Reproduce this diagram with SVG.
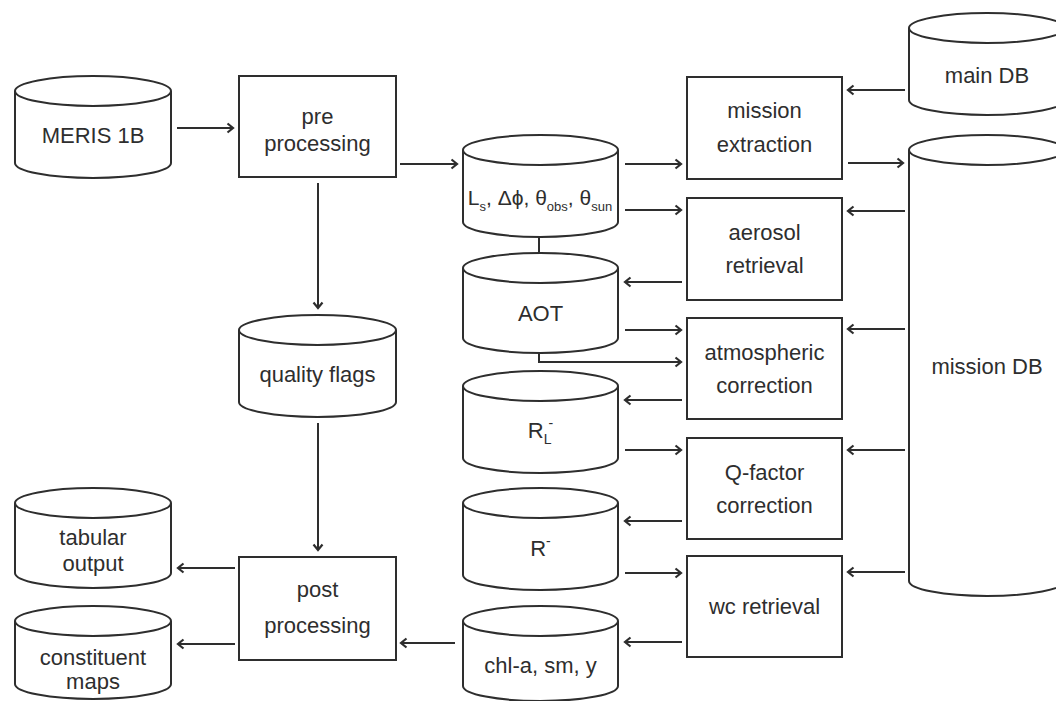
<svg xmlns="http://www.w3.org/2000/svg" width="1056" height="701" viewBox="0 0 1056 701">
  <style>
    .shape { fill: #ffffff; stroke: #2e2e2e; stroke-width: 2; }
    .edge { fill: none; stroke: #2e2e2e; stroke-width: 2; }
    text { font-family: "Liberation Sans", Arial, Helvetica, sans-serif; font-size: 22px; fill: #2e2e2e; text-anchor: middle; }
    .sub { font-size: 14px; }
    .geo { font-size: 21px; }
    .geo .sub { font-size: 13px; }
  </style>
  <defs>
    <marker id="arrow" markerUnits="userSpaceOnUse" markerWidth="10" markerHeight="12" viewBox="0 0 10 12" refX="8" refY="6" orient="auto">
      <path d="M2.5,1.5 L8,6 L2.5,10.5" fill="none" stroke="#2e2e2e" stroke-width="2.2"/>
    </marker>
  </defs>
  <rect width="1056" height="701" fill="#ffffff"/>

  <!-- connectors -->
  <g id="connectors" class="edge">
    <line x1="177" y1="128" x2="233" y2="128" marker-end="url(#arrow)"/>
    <line x1="400" y1="164" x2="457" y2="164" marker-end="url(#arrow)"/>
    <line x1="318" y1="183" x2="318" y2="308" marker-end="url(#arrow)"/>
    <line x1="318" y1="423" x2="318" y2="550" marker-end="url(#arrow)"/>
    <line x1="235" y1="568" x2="178" y2="568" marker-end="url(#arrow)"/>
    <line x1="235" y1="644" x2="178" y2="644" marker-end="url(#arrow)"/>
    <line x1="455" y1="643" x2="401" y2="643" marker-end="url(#arrow)"/>
    <line x1="625" y1="164" x2="681" y2="164" marker-end="url(#arrow)"/>
    <line x1="625" y1="210" x2="681" y2="210" marker-end="url(#arrow)"/>
    <line x1="539" y1="237" x2="539" y2="253"/>
    <line x1="682" y1="282" x2="625" y2="282" marker-end="url(#arrow)"/>
    <line x1="625" y1="330" x2="681" y2="330" marker-end="url(#arrow)"/>
    <polyline points="539,353 539,362 681,362" marker-end="url(#arrow)"/>
    <line x1="682" y1="400" x2="625" y2="400" marker-end="url(#arrow)"/>
    <line x1="625" y1="450" x2="681" y2="450" marker-end="url(#arrow)"/>
    <line x1="682" y1="521" x2="625" y2="521" marker-end="url(#arrow)"/>
    <line x1="625" y1="573" x2="681" y2="573" marker-end="url(#arrow)"/>
    <line x1="682" y1="642" x2="625" y2="642" marker-end="url(#arrow)"/>
    <line x1="905" y1="90" x2="848" y2="90" marker-end="url(#arrow)"/>
    <line x1="848" y1="163" x2="903" y2="163" marker-end="url(#arrow)"/>
    <line x1="905" y1="211" x2="848" y2="211" marker-end="url(#arrow)"/>
    <line x1="905" y1="329" x2="848" y2="329" marker-end="url(#arrow)"/>
    <line x1="905" y1="450" x2="848" y2="450" marker-end="url(#arrow)"/>
    <line x1="905" y1="572" x2="848" y2="572" marker-end="url(#arrow)"/>
  </g>

  <!-- data stores (cylinders) -->
  <g id="meris1b">
    <path class="shape" d="M15,91 A78,15 0 0 1 171,91 L171,163 A78,15 0 0 1 15,163 Z"/>
    <path class="edge" d="M15,91 A78,15 0 0 0 171,91"/>
    <text x="93" y="143">MERIS 1B</text>
  </g>
  <g id="quality-flags">
    <path class="shape" d="M239,330 A78.5,15 0 0 1 396,330 L396,402 A78.5,15 0 0 1 239,402 Z"/>
    <path class="edge" d="M239,330 A78.5,15 0 0 0 396,330"/>
    <text x="317.5" y="382">quality flags</text>
  </g>
  <g id="tabular-output">
    <path class="shape" d="M15,503 A78,15 0 0 1 171,503 L171,573 A78,15 0 0 1 15,573 Z"/>
    <path class="edge" d="M15,503 A78,15 0 0 0 171,503"/>
    <text x="93" y="545">tabular</text>
    <text x="93" y="571">output</text>
  </g>
  <g id="constituent-maps">
    <path class="shape" d="M15,621 A78,15 0 0 1 171,621 L171,684 A78,15 0 0 1 15,684 Z"/>
    <path class="edge" d="M15,621 A78,15 0 0 0 171,621"/>
    <text x="93" y="665">constituent</text>
    <text x="93" y="689">maps</text>
  </g>
  <g id="geometry">
    <path class="shape" d="M463,150 A77.5,15 0 0 1 618,150 L618,222 A77.5,15 0 0 1 463,222 Z"/>
    <path class="edge" d="M463,150 A77.5,15 0 0 0 618,150"/>
    <text class="geo" x="540" y="205">L<tspan class="sub" dy="6">s</tspan><tspan dy="-6">, Δϕ, θ</tspan><tspan class="sub" dy="6">obs</tspan><tspan dy="-6">, θ</tspan><tspan class="sub" dy="6">sun</tspan></text>
  </g>
  <g id="aot">
    <path class="shape" d="M463,268 A77.5,15 0 0 1 618,268 L618,338 A77.5,15 0 0 1 463,338 Z"/>
    <path class="edge" d="M463,268 A77.5,15 0 0 0 618,268"/>
    <text x="540.5" y="321">AOT</text>
  </g>
  <g id="rl">
    <path class="shape" d="M463,386 A77.5,15 0 0 1 618,386 L618,458 A77.5,15 0 0 1 463,458 Z"/>
    <path class="edge" d="M463,386 A77.5,15 0 0 0 618,386"/>
    <text x="540.5" y="438">R<tspan class="sub" dy="6">L</tspan><tspan class="sub" dx="-3" dy="-16">-</tspan></text>
  </g>
  <g id="r-minus">
    <path class="shape" d="M463,503 A77.5,15 0 0 1 618,503 L618,575 A77.5,15 0 0 1 463,575 Z"/>
    <path class="edge" d="M463,503 A77.5,15 0 0 0 618,503"/>
    <text x="540.5" y="556">R<tspan class="sub" dy="-10">-</tspan></text>
  </g>
  <g id="constituents">
    <path class="shape" d="M463,621 A77.5,15 0 0 1 618,621 L618,686 A77.5,15 0 0 1 463,686 Z"/>
    <path class="edge" d="M463,621 A77.5,15 0 0 0 618,621"/>
    <text x="540.5" y="673">chl-a, sm, y</text>
  </g>
  <g id="main-db">
    <path class="shape" d="M909,28 A78,15 0 0 1 1065,28 L1065,100 A78,15 0 0 1 909,100 Z"/>
    <path class="edge" d="M909,28 A78,15 0 0 0 1065,28"/>
    <text x="987" y="83">main DB</text>
  </g>
  <g id="mission-db">
    <path class="shape" d="M909,150 A78,15 0 0 1 1065,150 L1065,581 A78,15 0 0 1 909,581 Z"/>
    <path class="edge" d="M909,150 A78,15 0 0 0 1065,150"/>
    <text x="987" y="374">mission DB</text>
  </g>

  <!-- processing steps -->
  <g id="pre-processing">
    <rect class="shape" x="239" y="76" width="157" height="101"/>
    <text x="317.5" y="124">pre</text>
    <text x="317.5" y="151">processing</text>
  </g>
  <g id="post-processing">
    <rect class="shape" x="239" y="557" width="157" height="103"/>
    <text x="317.5" y="597">post</text>
    <text x="317.5" y="633">processing</text>
  </g>
  <g id="mission-extraction">
    <rect class="shape" x="687" y="77" width="155" height="102"/>
    <text x="764.5" y="118">mission</text>
    <text x="764.5" y="152">extraction</text>
  </g>
  <g id="aerosol-retrieval">
    <rect class="shape" x="687" y="198" width="155" height="102"/>
    <text x="764.5" y="240">aerosol</text>
    <text x="764.5" y="273">retrieval</text>
  </g>
  <g id="atmospheric-correction">
    <rect class="shape" x="687" y="318" width="155" height="101"/>
    <text x="764.5" y="360">atmospheric</text>
    <text x="764.5" y="393">correction</text>
  </g>
  <g id="q-factor-correction">
    <rect class="shape" x="687" y="438" width="155" height="101"/>
    <text x="764.5" y="480">Q-factor</text>
    <text x="764.5" y="513">correction</text>
  </g>
  <g id="wc-retrieval">
    <rect class="shape" x="687" y="556" width="155" height="101"/>
    <text x="764.5" y="614">wc retrieval</text>
  </g>
</svg>
